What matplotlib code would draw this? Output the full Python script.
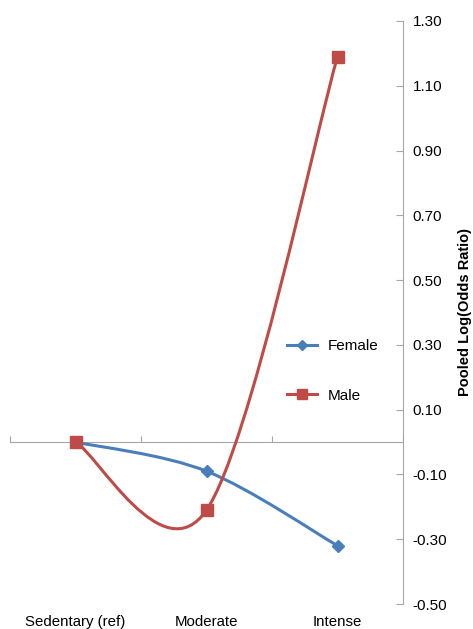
import matplotlib
matplotlib.use("Agg")
import matplotlib.pyplot as plt
from matplotlib.path import Path
from matplotlib.patches import PathPatch
from matplotlib.lines import Line2D
import numpy as np

plt.rcParams['font.family'] = ['Liberation Sans', 'DejaVu Sans']

categories = ["Sedentary (ref)", "Moderate", "Intense"]
female = [0.0, -0.09, -0.32]
male = [0.0, -0.21, 1.19]
yticks = [-0.50, -0.30, -0.10, 0.10, 0.30, 0.50, 0.70, 0.90, 1.10, 1.30]

blue = "#4A7EBB"
red = "#BE4B48"

W, H = 473, 629
fig = plt.figure(figsize=(W / 100, H / 100), dpi=100)
ax = fig.add_axes([10 / W, 1 - 604 / H, (403 - 10) / W, (604 - 21) / H])
ax.set_xlim(-0.5, 2.5)
ax.set_ylim(-0.5, 1.3)

def smooth_path(xs, ys):
    pts = np.column_stack([xs, ys]).astype(float)
    n = len(pts)
    verts = [pts[0]]
    codes = [Path.MOVETO]
    for i in range(n - 1):
        p0 = pts[i - 1] if i > 0 else pts[i]
        p1 = pts[i]
        p2 = pts[i + 1]
        p3 = pts[i + 2] if i + 2 < n else pts[i + 1]
        c1 = p1 + (p2 - p0) / 6.0
        c2 = p2 - (p3 - p1) / 6.0
        verts += [c1, c2, p2]
        codes += [Path.CURVE4] * 3
    return Path(verts, codes)

x = np.arange(len(categories))
for vals, col in [(female, blue), (male, red)]:
    ax.add_patch(PathPatch(smooth_path(x, vals), facecolor='none', edgecolor=col,
                           linewidth=2.2, zorder=3))
ax.plot(x, female, linestyle='none', marker='D', markersize=6.5, color=blue, zorder=4)
ax.plot(x, male, linestyle='none', marker='s', markersize=8, color=red, zorder=4)

# spines
for s in ['left', 'top']:
    ax.spines[s].set_visible(False)
ax.spines['bottom'].set_position(('data', 0))
ax.spines['bottom'].set_color('#A6A6A6')
ax.spines['right'].set_color('#A6A6A6')

ax.yaxis.tick_right()
ax.set_yticks(yticks)
ax.set_yticklabels([f"{v:.2f}" for v in yticks], fontsize=11)
ax.tick_params(axis='y', direction='in', length=5, color='#A6A6A6', pad=7)

fig.text(465 / W, 1 - 312 / H, "Pooled Log(Odds Ratio)", rotation=90,
         ha='center', va='center', fontsize=10.5, fontweight='bold')

ax.set_xticks([-0.5, 0.5, 1.5, 2.5])
ax.set_xticklabels([])
ax.tick_params(axis='x', direction='in', length=4, color='#A6A6A6')

for xi, lab in zip(x, categories):
    ax.text(xi, -(622 - 604) / 583, lab, transform=ax.get_xaxis_transform(),
            ha='center', va='center', fontsize=10.8, clip_on=False)

handles = [Line2D([], [], color=blue, lw=2.2, marker='D', markersize=5),
           Line2D([], [], color=red, lw=2.2, marker='s', markersize=6.5)]
fig.legend(handles, ["Female", "Male"], loc='center left',
           bbox_to_anchor=(273 / W, 1 - 371 / H), frameon=False, fontsize=11,
           handlelength=2.0, labelspacing=2.3, handletextpad=0.7)

fig.savefig("out.png", dpi=100)
